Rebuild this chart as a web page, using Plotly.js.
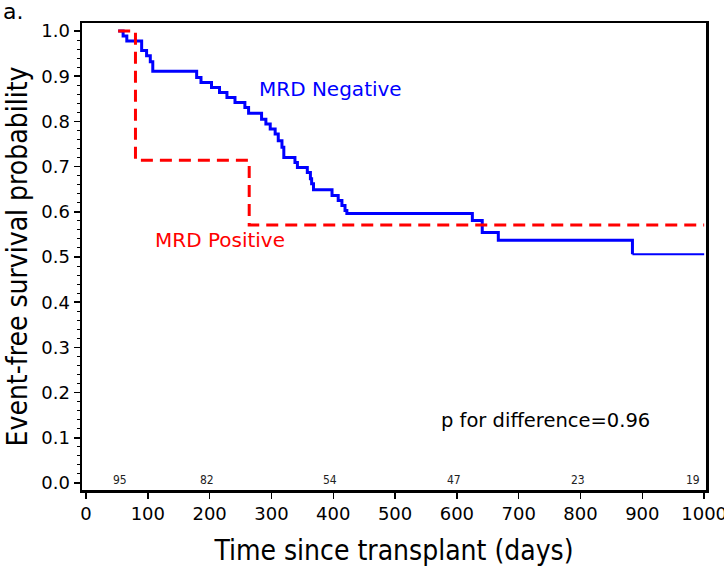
<!DOCTYPE html>
<html>
<head>
<meta charset="utf-8">
<script src="https://cdn.plot.ly/plotly-3.0.1.min.js"></script>
<style>html,body{margin:0;padding:0;background:#fff;}#chart{width:724px;height:569px;}</style>
</head>
<body>
<div id="chart"></div>
<script>
// MRD Negative Kaplan-Meier steps (days, survival after step)
var negDays = [52, 60, 66, 90, 98, 104, 108, 179, 186, 203, 216, 228, 241, 257, 263, 284, 291, 298, 306, 311, 317, 320, 338, 342, 358, 363, 365, 368, 398, 408, 414, 419, 422, 625, 641, 667, 884, 1000];
var negSurv = [1.0, 0.989, 0.978, 0.957, 0.945, 0.932, 0.911, 0.897, 0.886, 0.875, 0.864, 0.853, 0.842, 0.831, 0.818, 0.805, 0.794, 0.783, 0.772, 0.757, 0.743, 0.72, 0.709, 0.698, 0.687, 0.673, 0.662, 0.649, 0.636, 0.625, 0.614, 0.603, 0.596, 0.581, 0.554, 0.537, 0.506, 0.506];
// MRD Positive steps
var posDays = [52, 80, 264, 1000];
var posSurv = [1.0, 0.714, 0.571, 0.571];
// Numbers at risk
var riskDays = [60, 200, 400, 600, 800, 1000];
var riskCounts = ["95", "82", "54", "47", "23", "19"];
// Text labels
var negLabel = "MRD Negative";
var posLabel = "MRD Positive";
var pText = "p for difference=0.96";
var panelLabel = "a.";

var FONT = "DejaVu Sans, sans-serif";
var FONTC = "DejaVu Sans Condensed, DejaVu Sans, sans-serif";
var tailStart = negDays.indexOf(884);

var traces = [
  {x: negDays.slice(0, tailStart + 1), y: negSurv.slice(0, tailStart + 1), mode: "lines",
   line: {shape: "hv", color: "#0000ff", width: 3}, hoverinfo: "skip"},
  {x: negDays.slice(tailStart), y: negSurv.slice(tailStart), mode: "lines",
   line: {shape: "hv", color: "#0000ff", width: 2}, hoverinfo: "skip"},
  {x: posDays, y: posSurv, mode: "lines",
   line: {shape: "hv", color: "#ff0000", width: 3, dash: "12px,7px"}, hoverinfo: "skip"}
];

var annotations = riskDays.map(function (d, i) {
  var last = i === riskDays.length - 1;
  return {x: d, y: 0.007, xref: "x", yref: "y", text: riskCounts[i], showarrow: false,
    xanchor: last ? "right" : "center", xshift: last ? -2 : -3, yanchor: "middle",
    font: {family: FONTC, size: 12, color: "#222"}};
});
annotations.push({x: 396, y: 0.872, xref: "x", yref: "y", text: negLabel, showarrow: false,
  xanchor: "center", yanchor: "middle", font: {family: FONT, size: 20, color: "#0000ff"}});
annotations.push({x: 217, y: 0.538, xref: "x", yref: "y", text: posLabel, showarrow: false,
  xanchor: "center", yanchor: "middle", font: {family: FONT, size: 20, color: "#ff0000"}});
annotations.push({x: 744, y: 0.139, xref: "x", yref: "y", text: pText, showarrow: false,
  xanchor: "center", yanchor: "middle", font: {family: FONT, size: 19.5, color: "#000"}});
annotations.push({x: -0.13, y: 1.055, xref: "paper", yref: "paper", text: panelLabel, showarrow: false,
  xanchor: "left", yanchor: "top", font: {family: FONT, size: 22, color: "#000"}});

var layout = {
  width: 724, height: 569,
  margin: {l: 82, r: 18, t: 23, b: 79},
  paper_bgcolor: "#fff", plot_bgcolor: "#fff",
  showlegend: false,
  font: {family: FONT, color: "#000"},
  xaxis: {
    range: [-6.5, 1003], tickmode: "linear", tick0: 0, dtick: 100,
    ticks: "outside", ticklen: 6, tickwidth: 1.5, tickcolor: "#000",
    ticklabeloverflow: "allow",
    showline: true, linewidth: 2.5, linecolor: "#000", mirror: true,
    showgrid: false, zeroline: false,
    tickfont: {family: FONT, size: 18, color: "#000"},
    title: {text: "Time since transplant (days)", font: {family: FONTC, size: 28, color: "#000"}, standoff: 18}
  },
  yaxis: {
    range: [-0.0155, 1.0177], tickmode: "linear", tick0: 0, dtick: 0.1, tickformat: ".1f",
    ticks: "outside", ticklen: 6, tickwidth: 1.5, tickcolor: "#000",
    minor: {dtick: 0.02, ticks: "outside", ticklen: 3, tickwidth: 1, tickcolor: "#000"},
    showline: true, linewidth: 2.5, linecolor: "#000", mirror: true,
    showgrid: false, zeroline: false,
    tickfont: {family: FONT, size: 18, color: "#000"},
    title: {text: "Event-free survival probability", font: {family: FONTC, size: 28, color: "#000"}, standoff: 6}
  },
  annotations: annotations
};

Plotly.newPlot("chart", traces, layout, {staticPlot: true, displayModeBar: false});
</script>
</body>
</html>
